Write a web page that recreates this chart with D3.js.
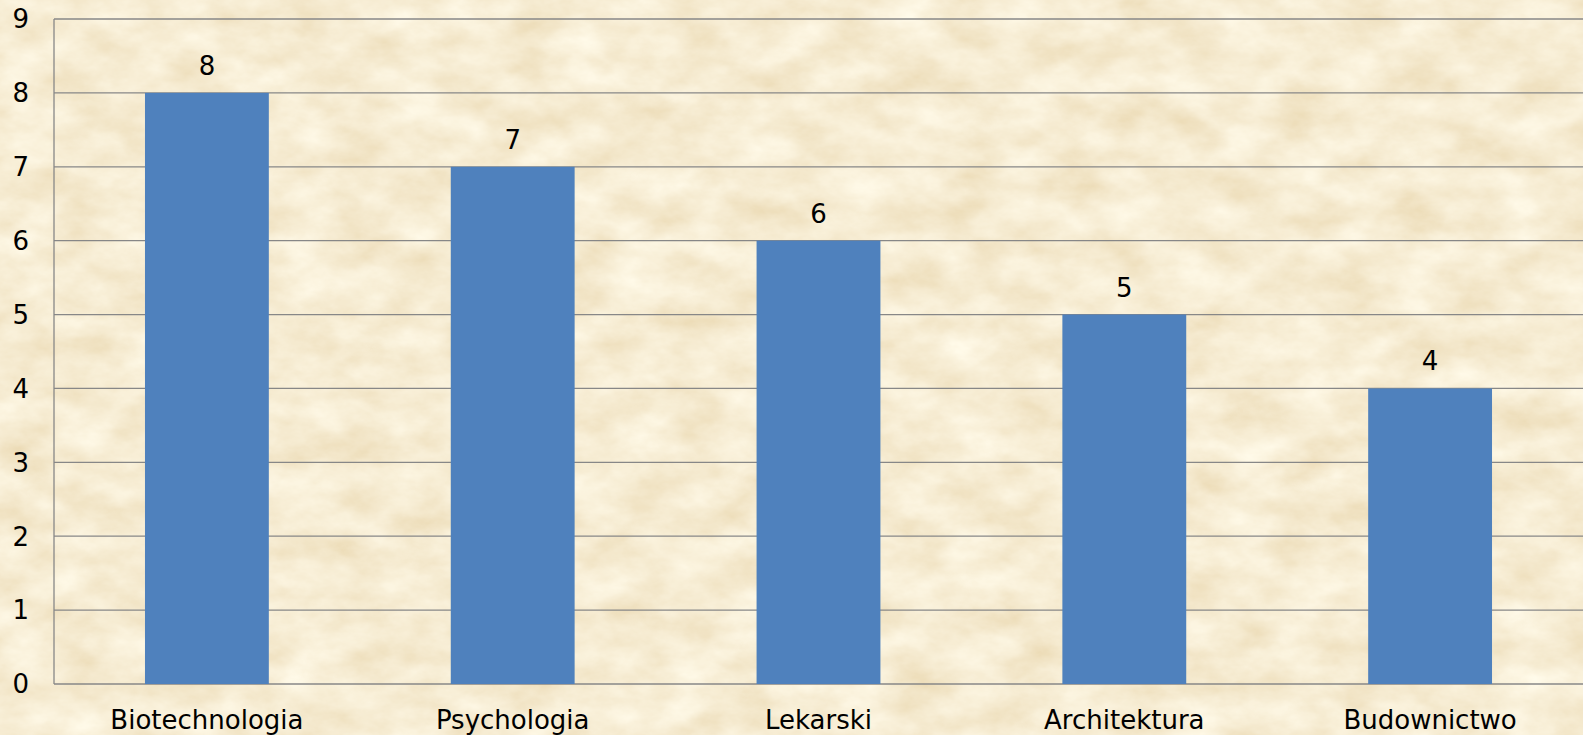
<!DOCTYPE html>
<html>
<head>
<meta charset="utf-8">
<script src="https://cdn.jsdelivr.net/npm/d3@7/dist/d3.min.js"></script>
<style>
  html, body { margin: 0; padding: 0; overflow: hidden; background: #ebd5a8; }
  svg { display: block; }
</style>
</head>
<body>
<div id="chart"></div>
<script>
// Chart data
const categories = ["Biotechnologia", "Psychologia", "Lekarski", "Architektura", "Budownictwo"];
const values = [8, 7, 6, 5, 4];
const yTicks = [0, 1, 2, 3, 4, 5, 6, 7, 8, 9];

const svgWidth = 1583, svgHeight = 735;
const margin = {top: 19, right: 0, bottom: 51, left: 54};
const width = svgWidth - margin.left - margin.right;
const height = svgHeight - margin.top - margin.bottom;
const font = '26px Verdana, "DejaVu Sans", sans-serif';

const svg = d3.select('#chart').append('svg')
  .attr('width', svgWidth)
  .attr('height', svgHeight);

// Parchment-like background texture
const defs = svg.append('defs');
const filter = defs.append('filter')
  .attr('id', 'paper')
  .attr('x', 0).attr('y', 0).attr('width', '100%').attr('height', '100%');
filter.append('feTurbulence')
  .attr('type', 'fractalNoise')
  .attr('baseFrequency', '0.018 0.03')
  .attr('numOctaves', 5)
  .attr('seed', 7)
  .attr('result', 'noise');
filter.append('feColorMatrix')
  .attr('in', 'noise')
  .attr('type', 'matrix')
  .attr('values',
    '0.2 0 0 0 0.825 ' +
    '0.3 0 0 0 0.69 ' +
    '0.42 0 0 0 0.44 ' +
    '0 0 0 0 1');

svg.append('rect')
  .attr('width', svgWidth)
  .attr('height', svgHeight)
  .attr('fill', '#ebd5a8');
svg.append('rect')
  .attr('width', svgWidth)
  .attr('height', svgHeight)
  .attr('filter', 'url(#paper)');

const plot = svg.append('g')
  .attr('transform', 'translate(' + margin.left + ',' + margin.top + ')');

// Scales
const x = d3.scaleBand()
  .domain(categories)
  .range([0, width])
  .paddingInner(0.595)
  .paddingOuter(0.2975);

const y = d3.scaleLinear()
  .domain([0, 9])
  .range([height, 0]);

// Gridlines
plot.append('g')
  .selectAll('line')
  .data(yTicks)
  .enter().append('line')
    .attr('x1', 0)
    .attr('x2', width)
    .attr('y1', d => y(d))
    .attr('y2', d => y(d))
    .attr('stroke', '#878787')
    .attr('stroke-width', 1.3);

// Left axis line
plot.append('line')
  .attr('x1', 0).attr('x2', 0)
  .attr('y1', y(9)).attr('y2', y(0))
  .attr('stroke', '#878787')
  .attr('stroke-width', 1.3);

// Y tick labels
svg.append('g')
  .selectAll('text')
  .data(yTicks)
  .enter().append('text')
    .attr('x', 29)
    .attr('y', d => margin.top + y(d))
    .attr('dy', '0.36em')
    .attr('text-anchor', 'end')
    .style('font', font)
    .style('fill', '#000')
    .text(d => d);

// Bars
plot.selectAll('.bar')
  .data(values)
  .enter().append('rect')
    .attr('class', 'bar')
    .attr('x', (d, i) => x(categories[i]))
    .attr('y', d => y(d))
    .attr('width', x.bandwidth())
    .attr('height', d => height - y(d))
    .attr('fill', '#4f81bd');

// Value labels
plot.selectAll('.value')
  .data(values)
  .enter().append('text')
    .attr('class', 'value')
    .attr('x', (d, i) => x(categories[i]) + x.bandwidth() / 2)
    .attr('y', d => y(d) - 18)
    .attr('text-anchor', 'middle')
    .style('font', font)
    .style('fill', '#000')
    .text(d => d);

// Category labels
plot.selectAll('.cat')
  .data(categories)
  .enter().append('text')
    .attr('class', 'cat')
    .attr('x', d => x(d) + x.bandwidth() / 2)
    .attr('y', height + 45)
    .attr('text-anchor', 'middle')
    .style('font', font)
    .style('fill', '#000')
    .text(d => d);
</script>
</body>
</html>
